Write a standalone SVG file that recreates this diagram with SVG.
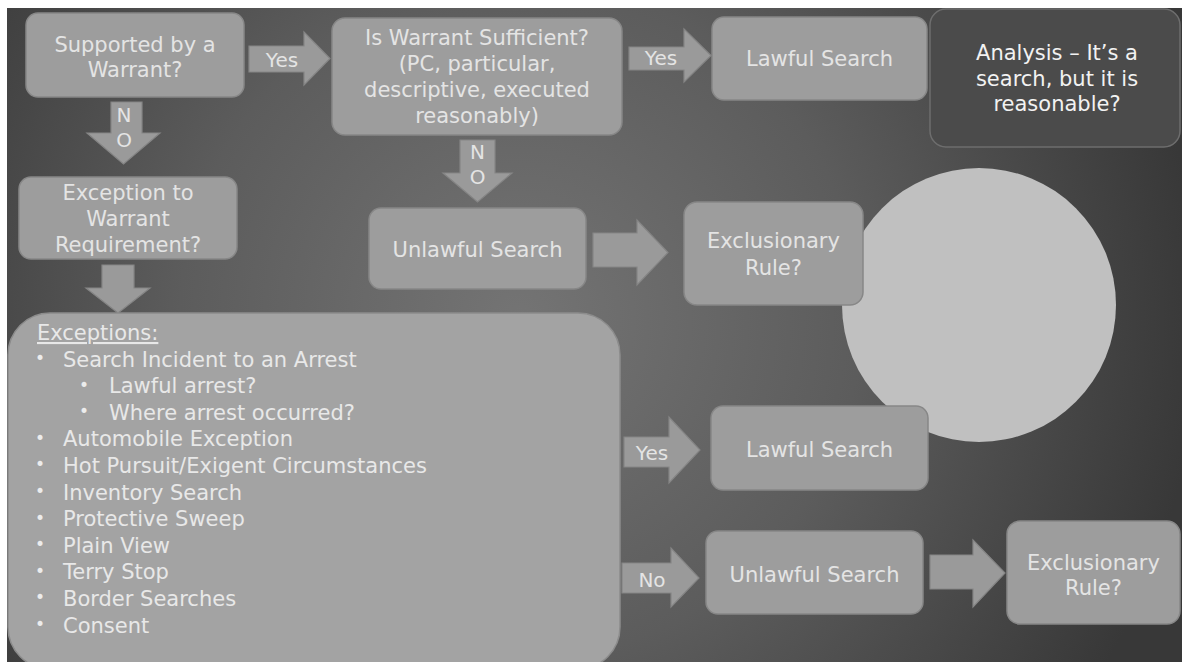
<svg xmlns="http://www.w3.org/2000/svg" width="1182" height="662" viewBox="0 0 1182 662">
<defs>
<radialGradient id="bg" gradientUnits="userSpaceOnUse" cx="520" cy="320" r="680">
<stop offset="0" stop-color="#747474"/>
<stop offset="0.5" stop-color="#5c5c5c"/>
<stop offset="1" stop-color="#383838"/>
</radialGradient>
<style>
.box{fill:#9d9d9d;stroke:#878787;stroke-width:1.5}
.dark{fill:#4b4b4b;stroke:#6e6e6e;stroke-width:1.5}
.big{fill:#a3a3a3;stroke:#8c8c8c;stroke-width:1.5}
.arr{fill:#9a9a9a;stroke:#858585;stroke-width:1.2}
.t{font-family:"DejaVu Sans","Liberation Sans",sans-serif;font-size:21px;fill:#e4e4e4;text-anchor:middle}
.l{font-family:"DejaVu Sans","Liberation Sans",sans-serif;font-size:20px;fill:#e4e4e4;text-anchor:middle}
.w{fill:#f2f2f2}
.li{font-family:"DejaVu Sans","Liberation Sans",sans-serif;font-size:21px;fill:#e8e8e8}
.b{font-family:"DejaVu Sans","Liberation Sans",sans-serif;font-size:17px;fill:#ececec}
</style>
</defs>
<rect x="0" y="0" width="1182" height="662" fill="#ffffff"/>
<rect x="7" y="8" width="1175" height="654" fill="url(#bg)"/>
<g id="circle"><circle cx="979" cy="305" r="137" fill="#c0c0c0"/></g>
<g id="connectors">
<g id="yes1"><path class="arr" d="M249,46 H304 V32 L330,58.5 L304,85 V72 H249 Z"/><text class="l" x="282" y="67">Yes</text></g>
<g id="yes2"><path class="arr" d="M629,47 H684 V29 L711,55.5 L684,82 V70 H629 Z"/><text class="l" x="661" y="65">Yes</text></g>
<g id="no1"><path class="arr" d="M111,102 H142 V133 H160 L123.5,164 L87,133 H111 Z"/><text class="l" x="124" y="122">N</text><text class="l" x="124" y="147">O</text></g>
<g id="down1"><path class="arr" d="M102,265 H134 V288 H150 L118,313 L86,288 H102 Z"/></g>
<g id="no2"><path class="arr" d="M460,140 H495 V173 H512 L477.5,202 L443,173 H460 Z"/><text class="l" x="477.5" y="159">N</text><text class="l" x="477.5" y="184">O</text></g>
<g id="arr-mid"><path class="arr" d="M593,233 H637 V220 L668,252.5 L637,285 V267 H593 Z"/></g>
<g id="yes3"><path class="arr" d="M624,437 H669 V417 L700,450 L669,483 V467 H624 Z"/><text class="l" x="652" y="460">Yes</text></g>
<g id="no3"><path class="arr" d="M622,563 H671 V548 L699,578 L671,607 V593 H622 Z"/><text class="l" x="652" y="587">No</text></g>
<g id="arr-bot"><path class="arr" d="M930,555 H973 V540 L1005,573 L973,607 V589 H930 Z"/></g>
</g>
<g id="supported"><rect class="box" x="26" y="13" width="218" height="84" rx="12"/><text class="t" x="135" y="52">Supported by a</text><text class="t" x="135" y="77">Warrant?</text></g>
<g id="sufficient"><rect class="box" x="332" y="18" width="290" height="117" rx="13"/><text class="t" x="477" y="45">Is Warrant Sufficient?</text><text class="t" x="477" y="71">(PC, particular,</text><text class="t" x="477" y="97">descriptive, executed</text><text class="t" x="477" y="123">reasonably)</text></g>
<g id="lawful1"><rect class="box" x="712" y="17" width="215" height="83" rx="12"/><text class="t" x="819.5" y="66">Lawful Search</text></g>
<g id="analysis"><rect class="dark" x="930" y="9" width="250" height="138" rx="16"/><text class="t w" x="1057" y="60">Analysis – It’s a</text><text class="t w" x="1057" y="86">search, but it is</text><text class="t w" x="1057" y="111">reasonable?</text></g>
<g id="exception"><rect class="box" x="19" y="177" width="218" height="82" rx="12"/><text class="t" x="128" y="200">Exception to</text><text class="t" x="128" y="226">Warrant</text><text class="t" x="128" y="252">Requirement?</text></g>
<g id="unlawful1"><rect class="box" x="369" y="208" width="217" height="81" rx="12"/><text class="t" x="477.5" y="257">Unlawful Search</text></g>
<g id="exclusionary1"><rect class="box" x="684" y="202" width="179" height="103" rx="13"/><text class="t" x="773.5" y="248">Exclusionary</text><text class="t" x="773.5" y="275">Rule?</text></g>
<g id="exceptions"><rect class="big" x="8" y="313" width="612" height="356" rx="42"/>
<text class="li" x="37" y="340" text-decoration="underline">Exceptions:</text>
<text class="b" x="35" y="364">•</text><text class="li" x="63" y="366.6">Search Incident to an Arrest</text>
<text class="b" x="79" y="390.6">•</text><text class="li" x="109" y="393.2">Lawful arrest?</text>
<text class="b" x="79" y="417.2">•</text><text class="li" x="109" y="419.8">Where arrest occurred?</text>
<text class="b" x="35" y="443.8">•</text><text class="li" x="63" y="446.4">Automobile Exception</text>
<text class="b" x="35" y="470.4">•</text><text class="li" x="63" y="473">Hot Pursuit/Exigent Circumstances</text>
<text class="b" x="35" y="497">•</text><text class="li" x="63" y="499.6">Inventory Search</text>
<text class="b" x="35" y="523.6">•</text><text class="li" x="63" y="526.2">Protective Sweep</text>
<text class="b" x="35" y="550.2">•</text><text class="li" x="63" y="552.8">Plain View</text>
<text class="b" x="35" y="576.8">•</text><text class="li" x="63" y="579.4">Terry Stop</text>
<text class="b" x="35" y="603.4">•</text><text class="li" x="63" y="606">Border Searches</text>
<text class="b" x="35" y="630">•</text><text class="li" x="63" y="632.6">Consent</text>
</g>
<g id="lawful2"><rect class="box" x="711" y="406" width="217" height="84" rx="12"/><text class="t" x="819.5" y="457">Lawful Search</text></g>
<g id="unlawful2"><rect class="box" x="706" y="531" width="217" height="83" rx="12"/><text class="t" x="814.5" y="582">Unlawful Search</text></g>
<g id="exclusionary2"><rect class="box" x="1007" y="521" width="173" height="103" rx="13"/><text class="t" x="1093.5" y="570">Exclusionary</text><text class="t" x="1093.5" y="595">Rule?</text></g>
</svg>
